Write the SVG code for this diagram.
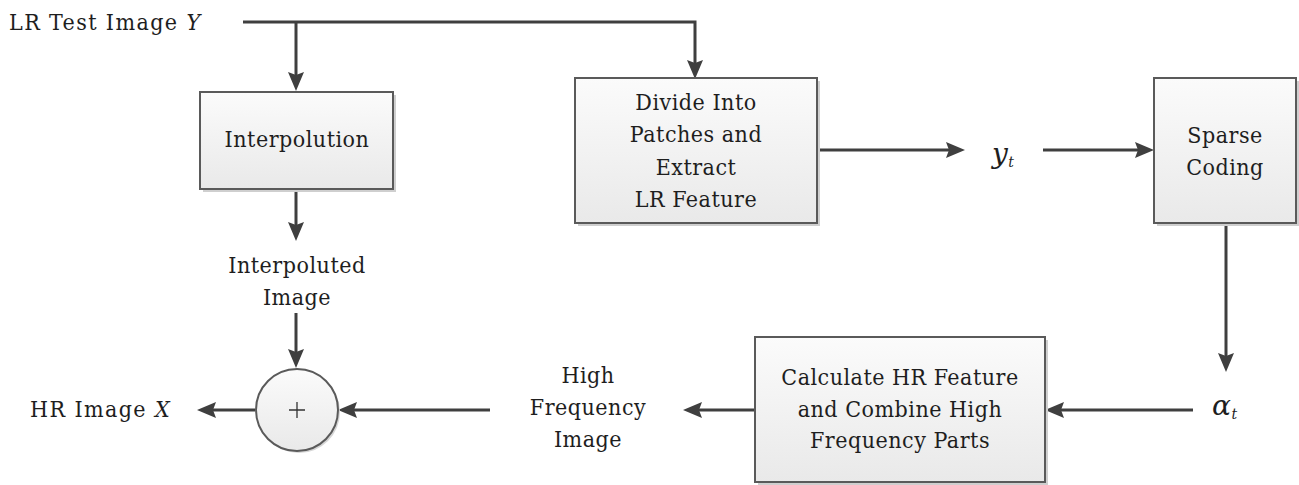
<svg xmlns="http://www.w3.org/2000/svg" width="1299" height="485" viewBox="0 0 1299 485">
<defs>
<linearGradient id="boxfill" x1="0" y1="0" x2="0" y2="1">
<stop offset="0" stop-color="#fbfbfb"/>
<stop offset="1" stop-color="#e9e9e9"/>
</linearGradient>
<marker id="arr" markerUnits="userSpaceOnUse" markerWidth="20" markerHeight="16" refX="6" refY="8" orient="auto">
<path d="M0,0 L19,8 L0,16 L3,8 z" fill="#3f3f3f"/>
</marker>
</defs>
<style>
.box{fill:url(#boxfill);stroke:#5a5a5a;stroke-width:2}
.shadow{fill:#cfcfcf;stroke:none}
text{font-family:"DejaVu Serif",serif;font-stretch:condensed;font-size:23px;fill:#1e1e1e;letter-spacing:0.5px}
.t{text-anchor:middle}
.m{font-style:italic}
.wide{letter-spacing:1.4px}
.c{fill:none;stroke:#3f3f3f;stroke-width:3}
</style>
<rect width="1299" height="485" fill="#ffffff"/>

<g id="connectors">
<path class="c" d="M243,22 H695 V66" marker-end="url(#arr)"/>
<path class="c" d="M296,22 V78" marker-end="url(#arr)"/>
<path class="c" d="M296,189 V228" marker-end="url(#arr)"/>
<path class="c" d="M296,313 V355" marker-end="url(#arr)"/>
<path class="c" d="M817,150 H952" marker-end="url(#arr)"/>
<path class="c" d="M1043,150 H1141" marker-end="url(#arr)"/>
<path class="c" d="M1226,223 V359" marker-end="url(#arr)"/>
<path class="c" d="M1193,410 H1058" marker-end="url(#arr)"/>
<path class="c" d="M755,410 H696" marker-end="url(#arr)"/>
<path class="c" d="M490,410 H351" marker-end="url(#arr)"/>
<path class="c" d="M255,410 H210" marker-end="url(#arr)"/>
</g>

<g id="input-label">
<text class="wide" x="9" y="30">LR Test Image <tspan class="m">Y</tspan></text>
</g>

<g id="interpolution">
<rect class="shadow" x="203" y="95" width="193" height="97"/>
<rect class="box" x="200" y="92" width="193" height="97"/>
<text class="t" x="297" y="147">Interpolution</text>
</g>

<g id="divide">
<rect class="shadow" x="578" y="81" width="242" height="145"/>
<rect class="box" x="575" y="78" width="242" height="145"/>
<text class="t" x="696" y="110">Divide Into</text>
<text class="t" x="696" y="142">Patches and</text>
<text class="t" x="696" y="175">Extract</text>
<text class="t" x="696" y="207">LR Feature</text>
</g>

<g id="yt">
<text class="m" x="992" y="163" style="font-size:28px;font-stretch:normal">y<tspan dy="4" style="font-size:14px">t</tspan></text>
</g>

<g id="sparse">
<rect class="shadow" x="1157" y="81" width="142" height="145"/>
<rect class="box" x="1154" y="78" width="142" height="145"/>
<text class="t" x="1225" y="143">Sparse</text>
<text class="t" x="1225" y="175">Coding</text>
</g>

<g id="alpha">
<text class="m" x="1212" y="415" style="font-size:28px;font-stretch:normal">α<tspan dy="4" style="font-size:14px">t</tspan></text>
</g>

<g id="calculate">
<rect class="shadow" x="758" y="340" width="290" height="145"/>
<rect class="box" x="755" y="337" width="290" height="145"/>
<text class="t" x="900" y="385">Calculate HR Feature</text>
<text class="t" x="900" y="417">and Combine High</text>
<text class="t" x="900" y="448">Frequency Parts</text>
</g>

<g id="highfreq">
<text class="t" x="588" y="383">High</text>
<text class="t" x="588" y="415">Frequency</text>
<text class="t" x="588" y="447">Image</text>
</g>

<g id="interpoluted">
<text class="t" x="297" y="273">Interpoluted</text>
<text class="t" x="297" y="305">Image</text>
</g>

<g id="sum">
<circle cx="299" cy="412" r="41" fill="#d6d6d6"/>
<circle cx="297" cy="410" r="41" fill="url(#boxfill)" stroke="#5a5a5a" stroke-width="2"/>
<path d="M289,410 H305 M297,402 V418" stroke="#333" stroke-width="1.3" fill="none"/>
</g>

<g id="output-label">
<text class="wide" x="30" y="417">HR Image <tspan class="m">X</tspan></text>
</g>
</svg>
